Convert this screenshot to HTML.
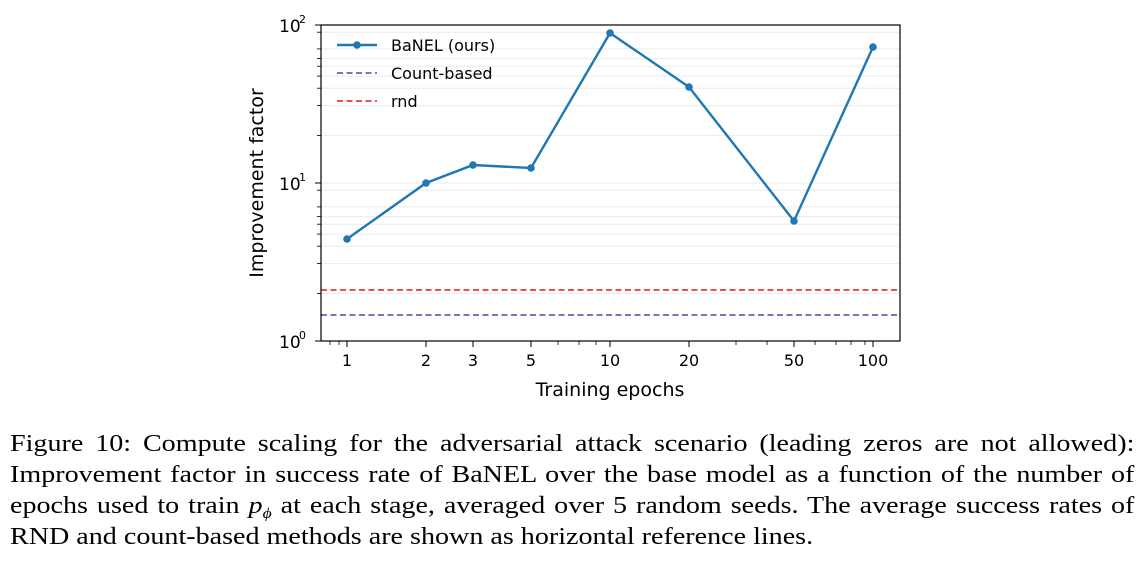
<!DOCTYPE html>
<html><head><style>
body{margin:0;background:#fff;width:1144px;height:581px;overflow:hidden;position:relative}
svg{position:absolute;left:0;top:0}
.cap{position:absolute;left:10px;top:429px;width:961px;transform:scaleX(1.17);transform-origin:0 0;font-family:"Liberation Serif",serif;font-size:24px;line-height:31px;color:#000}
.cap div{height:31px;text-align:justify;text-align-last:justify;white-space:nowrap;overflow:visible}
.cap div.l{text-align-last:left}
</style></head><body>
<svg width="1144" height="420" font-family="DejaVu Sans, Liberation Sans, sans-serif">
<g stroke="#ebebeb" stroke-width="1">
<line x1="321" x2="900" y1="293.4" y2="293.4"/><line x1="321" x2="900" y1="263.6" y2="263.6"/><line x1="321" x2="900" y1="246.2" y2="246.2"/><line x1="321" x2="900" y1="234.1" y2="234.1"/><line x1="321" x2="900" y1="224.2" y2="224.2"/><line x1="321" x2="900" y1="216.6" y2="216.6"/><line x1="321" x2="900" y1="206.9" y2="206.9"/><line x1="321" x2="900" y1="190.2" y2="190.2"/><line x1="321" x2="900" y1="183" y2="183"/>
<line x1="321" x2="900" y1="135.4" y2="135.4"/><line x1="321" x2="900" y1="105.6" y2="105.6"/><line x1="321" x2="900" y1="88.2" y2="88.2"/><line x1="321" x2="900" y1="76.1" y2="76.1"/><line x1="321" x2="900" y1="66.2" y2="66.2"/><line x1="321" x2="900" y1="58.6" y2="58.6"/><line x1="321" x2="900" y1="48.9" y2="48.9"/><line x1="321" x2="900" y1="32.2" y2="32.2"/>
</g>
<line x1="321" x2="900" y1="290" y2="290" stroke="#e41a1c" stroke-width="1.6" stroke-dasharray="6,3.5"/>
<line x1="321" x2="900" y1="315" y2="315" stroke="#6a3d9a" stroke-width="1.6" stroke-dasharray="6,3.5"/>
<polyline fill="none" stroke="#1f77b4" stroke-width="2.4" points="347,239 426,183 473,165 531,168 610,33 689,87 794,221 873,47"/>
<g fill="#1f77b4"><circle cx="347" cy="239" r="3.8"/><circle cx="426" cy="183" r="3.8"/><circle cx="473" cy="165" r="3.8"/><circle cx="531" cy="168" r="3.8"/><circle cx="610" cy="33" r="3.8"/><circle cx="689" cy="87" r="3.8"/><circle cx="794" cy="221" r="3.8"/><circle cx="873" cy="47" r="3.8"/></g>
<rect x="321" y="25" width="579" height="316" fill="none" stroke="#000" stroke-width="1.2"/>
<g stroke="#000" stroke-width="1">
<line x1="321" x2="315" y1="341" y2="341"/><line x1="321" x2="315" y1="183" y2="183"/><line x1="321" x2="315" y1="25" y2="25"/>
<g stroke-width="0.8"><line x1="321" x2="317" y1="293.4" y2="293.4"/><line x1="321" x2="317" y1="263.6" y2="263.6"/><line x1="321" x2="317" y1="246.2" y2="246.2"/><line x1="321" x2="317" y1="234.1" y2="234.1"/><line x1="321" x2="317" y1="224.2" y2="224.2"/><line x1="321" x2="317" y1="216.6" y2="216.6"/><line x1="321" x2="317" y1="206.9" y2="206.9"/><line x1="321" x2="317" y1="190.2" y2="190.2"/>
<line x1="321" x2="317" y1="135.4" y2="135.4"/><line x1="321" x2="317" y1="105.6" y2="105.6"/><line x1="321" x2="317" y1="88.2" y2="88.2"/><line x1="321" x2="317" y1="76.1" y2="76.1"/><line x1="321" x2="317" y1="66.2" y2="66.2"/><line x1="321" x2="317" y1="58.6" y2="58.6"/><line x1="321" x2="317" y1="48.9" y2="48.9"/><line x1="321" x2="317" y1="32.2" y2="32.2"/>
<line x1="330" x2="330" y1="341" y2="345"/><line x1="339" x2="339" y1="341" y2="345"/><line x1="558" x2="558" y1="341" y2="345"/><line x1="579" x2="579" y1="341" y2="345"/><line x1="596" x2="596" y1="341" y2="345"/><line x1="736" x2="736" y1="341" y2="345"/><line x1="767" x2="767" y1="341" y2="345"/><line x1="815" x2="815" y1="341" y2="345"/><line x1="836" x2="836" y1="341" y2="345"/><line x1="851" x2="851" y1="341" y2="345"/><line x1="865" x2="865" y1="341" y2="345"/></g>
<line x1="347" x2="347" y1="341" y2="347"/><line x1="426" x2="426" y1="341" y2="347"/><line x1="473" x2="473" y1="341" y2="347"/><line x1="531" x2="531" y1="341" y2="347"/><line x1="610" x2="610" y1="341" y2="347"/><line x1="689" x2="689" y1="341" y2="347"/><line x1="794" x2="794" y1="341" y2="347"/><line x1="873" x2="873" y1="341" y2="347"/>
</g>
<g font-size="16" text-anchor="middle" fill="#000">
<text x="347" y="366">1</text><text x="426" y="366">2</text><text x="473" y="366">3</text><text x="531" y="366">5</text><text x="610" y="366">10</text><text x="689" y="366">20</text><text x="794" y="366">50</text><text x="873" y="366">100</text>
</g>
<g font-size="17" fill="#000">
<text x="279" y="348">10</text><text x="299" y="339" font-size="11">0</text>
<text x="279" y="190">10</text><text x="299" y="181" font-size="11">1</text>
<text x="279" y="32">10</text><text x="299" y="23" font-size="11">2</text>
</g>
<text x="610" y="396" font-size="19" text-anchor="middle">Training epochs</text>
<text transform="translate(263,183) rotate(-90)" font-size="19" text-anchor="middle">Improvement factor</text>
<line x1="337" x2="377" y1="45" y2="45" stroke="#1f77b4" stroke-width="2.4"/><circle cx="357" cy="45" r="3.8" fill="#1f77b4"/>
<line x1="337" x2="377" y1="73" y2="73" stroke="#6a3d9a" stroke-width="1.6" stroke-dasharray="6,3.5"/>
<line x1="337" x2="377" y1="101" y2="101" stroke="#e41a1c" stroke-width="1.6" stroke-dasharray="6,3.5"/>
<g font-size="16" fill="#000"><text x="391" y="51">BaNEL (ours)</text><text x="391" y="79">Count-based</text><text x="391" y="107">rnd</text></g>
</svg>
<div class="cap">
<div>Figure 10: Compute scaling for the adversarial attack scenario (leading zeros are not allowed):</div>
<div>Improvement factor in success rate of BaNEL over the base model as a function of the number of</div>
<div>epochs used to train <i>p</i><i style="font-size:15px;position:relative;top:5px">ϕ</i> at each stage, averaged over 5 random seeds. The average success rates of</div>
<div class="l">RND and count-based methods are shown as horizontal reference lines.</div>
</div>
</body></html>
